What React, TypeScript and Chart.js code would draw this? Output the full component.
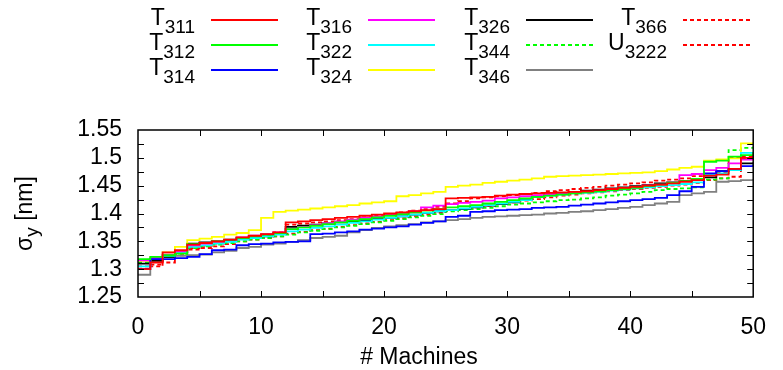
import React, { useEffect, useRef } from 'react';
import { Chart, registerables } from 'chart.js';
Chart.register(...registerables);

const machines = [0,1,2,3,4,5,6,7,8,9,10,11,12,13,14,15,16,17,18,19,20,21,22,23,24,25,26,27,28,29,30,31,32,33,34,35,36,37,38,39,40,41,42,43,44,45,46,47,48,49,50];

const seriesNames = ['T311','T312','T314','T316','T322','T324','T326','T344','T346','T366','U3222'];
const seriesColors = ['#ff0000','#00ff00','#0000ff','#ff00ff','#00ffff','#ffff00','#000000','#00ff00','#808080','#ff0000','#ff0000'];
const seriesDashed = [false,false,false,false,false,false,false,true,false,true,true];

const T311 = [1.300,1.312,1.330,1.334,1.344,1.347,1.350,1.353,1.357,1.360,1.363,1.366,1.384,1.386,1.388,1.390,1.392,1.394,1.396,1.398,1.400,1.402,1.404,1.406,1.408,1.427,1.428,1.429,1.430,1.432,1.434,1.435,1.436,1.437,1.438,1.439,1.440,1.442,1.444,1.446,1.448,1.450,1.452,1.454,1.457,1.460,1.468,1.470,1.480,1.500,1.505];
const T312 = [1.318,1.322,1.325,1.328,1.345,1.347,1.350,1.353,1.356,1.359,1.362,1.365,1.372,1.375,1.378,1.381,1.384,1.387,1.390,1.393,1.396,1.399,1.402,1.405,1.408,1.411,1.413,1.415,1.418,1.421,1.424,1.427,1.430,1.432,1.434,1.436,1.438,1.440,1.442,1.444,1.446,1.449,1.452,1.455,1.458,1.462,1.493,1.495,1.502,1.505,1.510];
const T314 = [1.300,1.318,1.318,1.320,1.322,1.327,1.334,1.335,1.343,1.345,1.346,1.348,1.349,1.350,1.363,1.364,1.366,1.368,1.371,1.373,1.375,1.377,1.380,1.383,1.386,1.394,1.396,1.403,1.404,1.406,1.407,1.408,1.410,1.411,1.412,1.414,1.416,1.418,1.420,1.422,1.424,1.426,1.428,1.433,1.440,1.448,1.472,1.476,1.480,1.485,1.488];
const T316 = [1.316,1.320,1.326,1.332,1.343,1.346,1.349,1.353,1.357,1.360,1.363,1.366,1.372,1.376,1.379,1.382,1.386,1.389,1.392,1.395,1.398,1.401,1.404,1.411,1.414,1.417,1.419,1.421,1.423,1.427,1.429,1.431,1.433,1.435,1.437,1.438,1.439,1.441,1.443,1.445,1.447,1.450,1.452,1.455,1.469,1.471,1.478,1.482,1.490,1.497,1.500];
const T322 = [1.305,1.318,1.324,1.330,1.340,1.343,1.346,1.349,1.353,1.356,1.359,1.362,1.368,1.371,1.374,1.377,1.380,1.383,1.386,1.389,1.392,1.395,1.398,1.401,1.404,1.406,1.409,1.412,1.415,1.418,1.421,1.424,1.430,1.432,1.434,1.436,1.437,1.439,1.441,1.443,1.445,1.447,1.449,1.451,1.453,1.456,1.470,1.472,1.478,1.509,1.510];
const T324 = [1.315,1.322,1.330,1.340,1.352,1.355,1.358,1.362,1.365,1.370,1.392,1.403,1.405,1.407,1.409,1.411,1.413,1.415,1.418,1.420,1.422,1.431,1.433,1.436,1.439,1.448,1.450,1.452,1.455,1.457,1.459,1.461,1.463,1.466,1.467,1.468,1.469,1.470,1.471,1.472,1.473,1.474,1.476,1.479,1.482,1.484,1.495,1.497,1.499,1.526,1.528];
const T326 = [1.310,1.315,1.322,1.330,1.346,1.348,1.350,1.352,1.355,1.357,1.359,1.363,1.376,1.378,1.380,1.382,1.384,1.386,1.388,1.390,1.392,1.395,1.398,1.401,1.404,1.406,1.408,1.411,1.414,1.417,1.420,1.426,1.430,1.434,1.437,1.439,1.441,1.443,1.445,1.447,1.449,1.451,1.454,1.456,1.458,1.461,1.465,1.476,1.478,1.490,1.492];
const T344 = [1.312,1.316,1.322,1.328,1.338,1.341,1.344,1.347,1.350,1.353,1.356,1.359,1.362,1.366,1.369,1.372,1.375,1.378,1.381,1.384,1.387,1.390,1.393,1.396,1.399,1.404,1.406,1.408,1.410,1.413,1.416,1.418,1.420,1.422,1.424,1.425,1.427,1.429,1.432,1.434,1.436,1.439,1.442,1.444,1.445,1.447,1.461,1.463,1.514,1.518,1.520];
const T346 = [1.290,1.320,1.322,1.324,1.325,1.326,1.330,1.333,1.338,1.340,1.344,1.346,1.349,1.352,1.356,1.358,1.360,1.366,1.370,1.374,1.377,1.379,1.381,1.384,1.386,1.388,1.390,1.392,1.394,1.395,1.396,1.397,1.398,1.400,1.401,1.403,1.404,1.406,1.408,1.410,1.412,1.415,1.418,1.421,1.433,1.436,1.439,1.457,1.458,1.460,1.462];
const T366 = [1.305,1.308,1.322,1.330,1.338,1.342,1.346,1.350,1.355,1.358,1.362,1.366,1.380,1.382,1.384,1.386,1.388,1.390,1.393,1.396,1.399,1.402,1.405,1.408,1.412,1.418,1.422,1.427,1.429,1.431,1.433,1.435,1.437,1.440,1.442,1.444,1.446,1.448,1.450,1.452,1.454,1.456,1.459,1.461,1.463,1.467,1.470,1.473,1.500,1.503,1.506];
const U3222 = [1.300,1.305,1.312,1.325,1.335,1.338,1.341,1.345,1.350,1.353,1.356,1.359,1.364,1.367,1.370,1.373,1.376,1.379,1.382,1.385,1.388,1.391,1.395,1.398,1.401,1.405,1.408,1.411,1.414,1.417,1.420,1.423,1.426,1.429,1.432,1.434,1.436,1.438,1.440,1.442,1.444,1.446,1.448,1.450,1.452,1.455,1.460,1.463,1.466,1.498,1.503];

const seriesValues = [T311, T312, T314, T316, T322, T324, T326, T344, T346, T366, U3222];

const FONT = '"Liberation Sans", Arial, Helvetica, sans-serif';

const legendTextRight = [195, 352, 510, 667];
const legendLineStart = [211, 368, 526, 683];

const decorPlugin = {
  id: 'decor',
  afterDraw(chart: any) {
    const { ctx, chartArea: a, scales } = chart;
    const xs = scales.x, ys = scales.y;
    ctx.save();
    // inward tick marks (mirrored)
    ctx.strokeStyle = '#000';
    ctx.lineWidth = 1;
    ctx.beginPath();
    xs.ticks.forEach((t: any) => {
      const px = Math.round(xs.getPixelForValue(t.value)) + 0.5;
      if (px <= a.left + 1 || px >= a.right - 1) return;
      ctx.moveTo(px, a.bottom); ctx.lineTo(px, a.bottom - 6);
      ctx.moveTo(px, a.top); ctx.lineTo(px, a.top + 6);
    });
    ys.ticks.forEach((t: any) => {
      const py = Math.round(ys.getPixelForValue(t.value)) + 0.5;
      if (py <= a.top + 1 || py >= a.bottom - 1) return;
      ctx.moveTo(a.left, py); ctx.lineTo(a.left + 6, py);
      ctx.moveTo(a.right, py); ctx.lineTo(a.right - 6, py);
    });
    ctx.stroke();
    // frame
    ctx.lineWidth = 1.5;
    ctx.strokeRect(a.left, a.top, a.right - a.left, a.bottom - a.top);

    // legend
    chart.data.datasets.forEach((ds: any, i: number) => {
      const col = Math.floor(i / 3), row = i % 3;
      const name: string = ds.label;
      const base = name.charAt(0), sub = name.slice(1);
      ctx.fillStyle = '#000';
      ctx.font = `19px ${FONT}`;
      const sw = ctx.measureText(sub).width;
      ctx.font = `23px ${FONT}`;
      const bw = ctx.measureText(base).width;
      const right = legendTextRight[col];
      ctx.textAlign = 'left';
      ctx.textBaseline = 'alphabetic';
      ctx.fillText(base, right - sw - bw, 25 + 25 * row);
      ctx.font = `19px ${FONT}`;
      ctx.fillText(sub, right - sw, 33 + 25 * row);
      const ly = 20 + 25 * row;
      ctx.strokeStyle = ds.borderColor;
      ctx.lineWidth = 2;
      ctx.setLineDash(ds.borderDash || []);
      ctx.beginPath();
      ctx.moveTo(legendLineStart[col], ly);
      ctx.lineTo(legendLineStart[col] + 67, ly);
      ctx.stroke();
      ctx.setLineDash([]);
    });

    // y title
    ctx.fillStyle = '#000';
    ctx.save();
    ctx.translate(31.5, (a.top + a.bottom) / 2);
    ctx.rotate(-Math.PI / 2);
    ctx.font = `23px ${FONT}`;
    const w1 = ctx.measureText('σ').width;
    const w3 = ctx.measureText(' [nm]').width;
    ctx.font = `19px ${FONT}`;
    const w2 = ctx.measureText('y').width;
    const total = w1 + w2 + w3;
    let x0 = -total / 2;
    ctx.textAlign = 'left';
    ctx.textBaseline = 'alphabetic';
    ctx.font = `23px ${FONT}`;
    ctx.fillText('σ', x0, 0);
    ctx.font = `19px ${FONT}`;
    ctx.fillText('y', x0 + w1, 6);
    ctx.font = `23px ${FONT}`;
    ctx.fillText(' [nm]', x0 + w1 + w2, 0);
    ctx.restore();

    // x title
    ctx.font = `23px ${FONT}`;
    ctx.textAlign = 'center';
    ctx.textBaseline = 'alphabetic';
    ctx.fillText('# Machines', 419, 364);
    ctx.restore();
  },
};

export default function App() {
  const ref = useRef<HTMLCanvasElement | null>(null);
  useEffect(() => {
    if (!ref.current) return;
    const datasets = seriesNames.map((name, i) => ({
      label: name,
      data: machines.map((m, j) => ({ x: m, y: seriesValues[i][j] })),
      borderColor: seriesColors[i],
      backgroundColor: seriesColors[i],
      borderWidth: 1.8,
      borderDash: seriesDashed[i] ? [4, 3] : [],
      pointRadius: 0,
      stepped: 'before' as const,
      fill: false,
    }));
    const chart = new Chart(ref.current, {
      type: 'line',
      data: { datasets },
      options: {
        animation: false,
        responsive: false,
        maintainAspectRatio: false,
        layout: { padding: { left: 0, top: 130, right: 19, bottom: 0 } },
        plugins: { legend: { display: false }, tooltip: { enabled: false }, title: { display: false } },
        scales: {
          x: {
            type: 'linear',
            min: 0,
            max: 50,
            grid: { display: false, drawTicks: false },
            border: { display: false },
            ticks: {
              stepSize: 5,
              autoSkip: false,
              maxRotation: 0,
              padding: 17,
              color: '#000',
              font: { family: FONT, size: 23 },
              callback: (v: any) => (Math.round(v) % 10 === 0 ? String(Math.round(v)) : ''),
            },
            afterFit: (s: any) => { s.height = 73; },
          },
          y: {
            type: 'linear',
            min: 1.25,
            max: 1.55,
            grid: { display: false, drawTicks: false },
            border: { display: false },
            ticks: {
              stepSize: 0.025,
              autoSkip: false,
              padding: 16,
              color: '#000',
              font: { family: FONT, size: 23 },
              callback: (v: any) => {
                const r = Math.round(v * 1000);
                return r % 50 === 0 ? String(Math.round(v * 100) / 100) : '';
              },
            },
            afterFit: (s: any) => { s.width = 138; },
          },
        },
      },
      plugins: [decorPlugin],
    });
    return () => chart.destroy();
  }, []);
  return (
    <div style={{ position: 'fixed', left: 0, top: 0, width: 783, height: 370, background: '#fff' }}>
      <canvas ref={ref} width={783} height={370} style={{ display: 'block', width: 783, height: 370 }} />
    </div>
  );
}
